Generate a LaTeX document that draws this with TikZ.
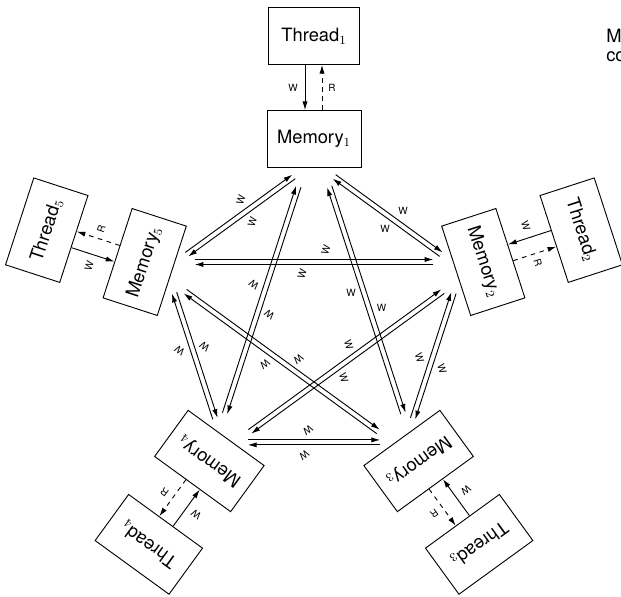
\documentclass[tikz,border=0pt]{standalone}
\usepackage{fontspec}
\setmainfont{TeX Gyre Heros}
\usetikzlibrary{arrows.meta,calc}

\begin{document}
\begin{tikzpicture}[
    x=0.023cm, y=0.023cm,
    membox/.style={rectangle, draw, line width=0.6pt, inner sep=0pt, minimum width=2.16cm, minimum height=1.31cm, font=\fontsize{12}{14}\selectfont},
    thrbox/.style={membox, minimum width=2.1cm},
    wire/.style={-{Latex[length=2mm, width=1.2mm]}, line width=0.6pt},
    lbl/.style={inner sep=0pt, font=\fontsize{6.5}{7}\selectfont}
]
    \useasboundingbox (-314,-279) rectangle (307,317);

    \foreach \i in {1,...,5} {
        \pgfmathsetmacro{\ang}{90-72*(\i-1)}
        \pgfmathsetmacro{\rot}{-72*(\i-1)}
        \node [membox, rotate=\rot] (m\i) at (\ang:178) {Memory$_\i$};
        \node [thrbox, rotate=\rot] (t\i) at (\ang:281) {Thread$_\i$};
        \coordinate (k\i) at (\ang:155);
    }

    \foreach \i in {1,...,5} {
        \pgfmathtruncatemacro{\j}{mod(\i,5)+1}
        \pgfmathtruncatemacro{\k}{mod(\i+1,5)+1}
        \pgfmathsetmacro{\rot}{-72*(\i-1)}

        \draw [wire] ($(t\i.south)!0.207cm!(t\i.south west)$) coordinate (a) -- ($(m\i.north)!0.207cm!(m\i.north west)$) coordinate (b);
        \node [lbl, rotate=\rot] at ($(a)!0.5!(b)!0.276cm!-90:(b)$) {W};
        \draw [wire, dashed] ($(m\i.north)!0.184cm!(m\i.north east)$) coordinate (a) -- ($(t\i.south)!0.184cm!(t\i.south east)$) coordinate (b);
        \node [lbl, rotate=\rot] at ($(a)!0.5!(b)!0.23cm!-90:(b)$) {R};

        \draw [wire] ($(k\i)!0.575cm!(k\j)!0.0575cm!90:(k\j)$) coordinate (a) -- ($(k\j)!0.575cm!(k\i)!0.0575cm!-90:(k\i)$) coordinate (b);
        \node [lbl, rotate=\rot] at ($(a)!0.575!(b)!0.23cm!90:(b)$) {W};
        \draw [wire] ($(k\j)!0.575cm!(k\i)!0.0575cm!90:(k\i)$) coordinate (a) -- ($(k\i)!0.575cm!(k\j)!0.0575cm!-90:(k\j)$) coordinate (b);
        \node [lbl, rotate=\rot] at ($(a)!0.455!(b)!0.23cm!90:(b)$) {W};

        \draw [wire] ($(m\i)!1.15cm!(m\k)!0.0575cm!90:(m\k)$) coordinate (a) -- ($(m\k)!1.15cm!(m\i)!0.0575cm!-90:(m\i)$) coordinate (b);
        \node [lbl, rotate=\rot] at ($(a)!0.55!(b)!0.22cm!90:(b)$) {W};
        \draw [wire] ($(m\k)!1.15cm!(m\i)!0.0575cm!90:(m\i)$) coordinate (a) -- ($(m\i)!1.15cm!(m\k)!0.0575cm!-90:(m\k)$) coordinate (b);
        \node [lbl, rotate=\rot] at ($(a)!0.55!(b)!0.22cm!90:(b)$) {W};
    }

    \node [anchor=north west, inner sep=0pt, align=left, font=\fontsize{12}{12.4}\selectfont] (note) at (292,288) {M\\co};
\end{tikzpicture}
\end{document}
